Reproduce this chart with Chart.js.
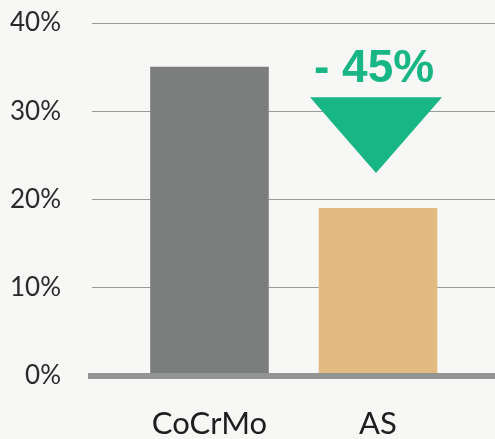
<!DOCTYPE html>
<html>
<head>
<meta charset="utf-8">
<script src="https://cdn.jsdelivr.net/npm/chart.js@4"></script>
<style>
  html, body { margin: 0; padding: 0; background: #f7f7f5; }
  canvas { display: block; }
</style>
</head>
<body>
<canvas id="chart" width="495" height="439"></canvas>
<script>
/* ========= Daten ========= */
const categories = ["CoCrMo", "AS"];
const values = [35, 19];
const barColors = ["#7b7e7d", "#e2bb82"];
const yTicks = [0, 10, 20, 30, 40];
const changeLabel = "- 45%";

/* ========= Annotation (Dreieck + Text) ========= */
const annot = {
  color: "#18b585",
  triTop: 31.6,     // in % der y-Achse
  triApex: 23.0,
  halfWidth: 66,
  textBase: 33.3
};

const baselinePlugin = {
  id: "baseline",
  afterDatasetsDraw(chart) {
    const { ctx, chartArea, scales } = chart;
    const y0 = scales.y.getPixelForValue(0);
    ctx.save();
    ctx.strokeStyle = "#939594";
    ctx.lineWidth = 6;
    ctx.beginPath();
    ctx.moveTo(chartArea.left - 4, y0);
    ctx.lineTo(chartArea.right, y0);
    ctx.stroke();

    // Dreieck ueber dem AS-Balken
    const cx = scales.x.getPixelForValue(2) - 2;
    const yt = scales.y.getPixelForValue(annot.triTop);
    const ya = scales.y.getPixelForValue(annot.triApex);
    ctx.fillStyle = annot.color;
    ctx.beginPath();
    ctx.moveTo(cx - annot.halfWidth, yt);
    ctx.lineTo(cx + annot.halfWidth, yt);
    ctx.lineTo(cx, ya);
    ctx.closePath();
    ctx.fill();

    ctx.font = "bold 46px 'Liberation Sans', Arial, sans-serif";
    ctx.textAlign = "center";
    ctx.textBaseline = "alphabetic";
    ctx.fillText(changeLabel, cx - 2, scales.y.getPixelForValue(annot.textBase));
    ctx.restore();
  }
};

const ctx = document.getElementById("chart").getContext("2d");
new Chart(ctx, {
  type: "bar",
  data: {
    datasets: [{
      data: categories.map((c, i) => ({ x: i + 1, y: values[i] })),
      backgroundColor: barColors,
      borderWidth: 0,
      barThickness: 118
    }]
  },
  options: {
    responsive: false,
    animation: false,
    layout: { padding: { top: 23, left: 0, right: 0, bottom: 0 } },
    plugins: { legend: { display: false }, tooltip: { enabled: false } },
    scales: {
      x: {
        type: "linear",
        offset: false,
        min: 0.303,
        max: 2.694,
        afterBuildTicks: s => { s.ticks = categories.map((c, i) => ({ value: i + 1 })); },
        afterFit: s => { s.height = 63; },
        grid: { display: false },
        border: { display: false },
        ticks: {
          callback: v => categories[v - 1] || "",
          color: "#1e1e1e",
          padding: 21,
          maxRotation: 0,
          font: { family: "Lato, 'Liberation Sans', sans-serif", size: 31 }
        }
      },
      y: {
        min: 0,
        max: 40,
        afterBuildTicks: s => { s.ticks = yTicks.map(v => ({ value: v })); },
        afterFit: s => { s.width = 92; },
        grid: {
          color: c => c.tick && c.tick.value === 0 ? "rgba(0,0,0,0)" : "#9a9a9a",
          lineWidth: 1,
          drawTicks: true,
          tickLength: 31,
          tickColor: "rgba(0,0,0,0)"
        },
        border: { display: false },
        ticks: {
          callback: v => v + "%",
          color: "#2a2a2a",
          padding: 0,
          font: { family: "Lato, 'Liberation Sans', sans-serif", size: 26 }
        }
      }
    }
  },
  plugins: [baselinePlugin]
});
</script>
</body>
</html>
